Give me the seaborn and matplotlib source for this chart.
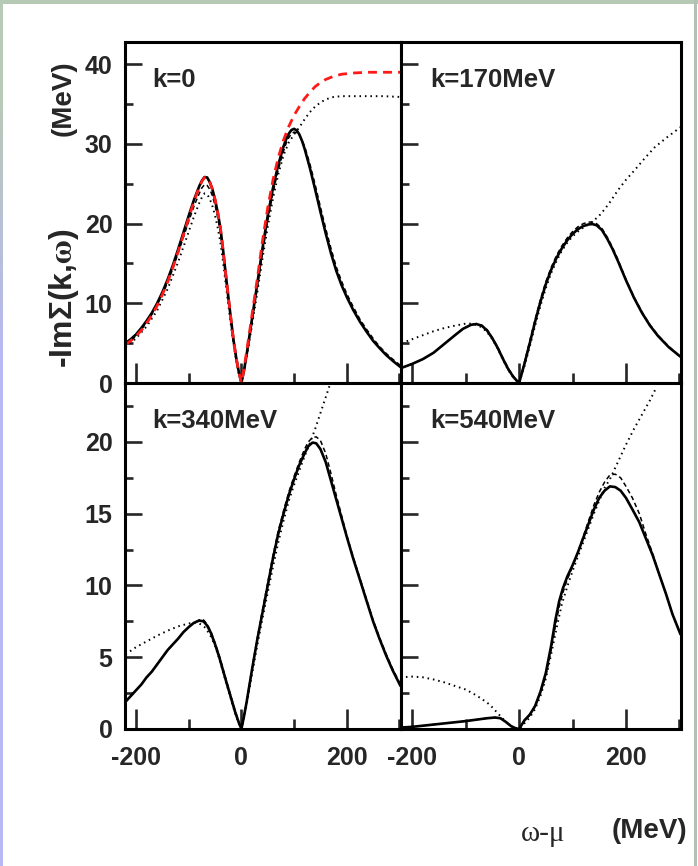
import numpy as np
import pandas as pd
import matplotlib
matplotlib.use("Agg")
import matplotlib.pyplot as plt
from matplotlib.ticker import MultipleLocator
import seaborn as sns

# ---------------- data (omega - mu in MeV, -Im Sigma in MeV) ----------------
# k = 0
k0_solid_x = [-220, -210, -200, -190, -180, -170, -160, -150, -140, -130, -120, -110, -100, -90, -80, -75, -70, -65,
              -60, -55, -50, -45, -40, -35, -30, -25, -20, -15, -10, -5, 0,
              5, 10, 15, 20, 30, 40, 50, 60, 70, 80, 85, 90, 95, 100, 105, 110, 115, 120, 130, 140, 150,
              160, 170, 180, 190, 200, 212, 225, 237, 250, 262, 275, 287, 302]
k0_solid_y = [5.0, 5.5, 6.1, 6.9, 7.8, 8.8, 10.0, 11.4, 13.0, 14.8, 16.8, 18.9, 21.0, 23.0, 24.7, 25.4, 25.85, 25.8,
              25.2, 24.3, 23.0, 21.4, 19.5, 16.8, 13.8, 10.9, 8.1, 5.4, 3.2, 1.4, 0.0,
              1.6, 3.6, 5.8, 8.0, 12.4, 16.9, 21.0, 24.5, 27.4, 29.7, 30.6, 31.3, 31.75, 31.9, 31.7, 31.2, 30.4, 29.4, 27.0, 24.3, 21.5,
              18.8, 16.3, 14.1, 12.3, 10.8, 9.2, 7.7, 6.5, 5.3, 4.4, 3.5, 2.8, 2.0]
k0_dash_x = k0_solid_x
k0_dash_y = [4.8, 5.3, 5.9, 6.7, 7.6, 8.6, 9.8, 11.1, 12.6, 14.4, 16.3, 18.3, 20.3, 22.2, 23.8, 24.5, 24.9, 24.8,
             24.3, 23.5, 22.3, 20.8, 19.0, 16.4, 13.5, 10.7, 7.9, 5.3, 3.1, 1.3, 0.0,
             1.5, 3.4, 5.5, 7.6, 11.9, 16.3, 20.4, 23.9, 26.8, 29.1, 30.1, 30.8, 31.3, 31.5, 31.4, 31.1, 30.5, 29.7, 27.5, 24.9, 22.1,
             19.4, 16.9, 14.6, 12.8, 11.2, 9.6, 8.0, 6.8, 5.6, 4.6, 3.7, 3.0, 2.2]
k0_dot_x = [-220, -200, -180, -160, -140, -120, -100, -90, -80, -75, -70, -65, -60, -55, -50, -45, -40, -35, -30,
            -25, -20, -15, -10, -5, 0,
            5, 10, 15, 20, 30, 40, 50, 60, 70, 80, 90, 100, 110, 120, 130, 140, 150, 160, 175, 190, 210, 240, 270, 302]
k0_dot_y = [4.5, 5.6, 7.1, 9.1, 11.8, 15.2, 19.0, 20.9, 22.6, 23.3, 23.8, 23.7, 23.1, 22.2, 21.0, 19.5, 17.7, 15.3, 12.6,
            9.9, 7.3, 4.9, 2.9, 1.2, 0.0,
            1.4, 3.2, 5.2, 7.2, 11.3, 15.6, 19.6, 23.2, 26.2, 28.6, 30.2, 31.2, 32.1, 33.1, 34.0, 34.7, 35.2, 35.6, 35.9, 36.0, 36.0, 36.0, 36.0, 35.9]
k0_red_x = [-220, -210, -200, -190, -180, -170, -160, -150, -140, -130, -120, -110, -100, -90, -80, -75, -70, -65,
            -60, -55, -50, -45, -40, -35, -30, -25, -20, -15, -10, -5, 0,
            5, 10, 15, 20, 30, 40, 50, 60, 70, 80, 90, 100, 110, 120, 130, 140, 150, 160, 175, 190, 210, 240, 270, 302]
k0_red_y = [4.8, 5.3, 5.9, 6.6, 7.5, 8.5, 9.7, 11.1, 12.7, 14.5, 16.5, 18.6, 20.7, 22.8, 24.6, 25.3, 25.8, 25.8,
            25.2, 24.3, 23.0, 21.4, 19.5, 16.8, 13.8, 10.9, 8.1, 5.4, 3.2, 1.4, 0.0,
            1.8, 4.0, 6.2, 8.5, 13.0, 17.8, 22.0, 25.5, 28.3, 30.5, 32.2, 33.6, 34.7, 35.7, 36.5, 37.2, 37.7, 38.1, 38.5, 38.75, 38.9, 39.0, 39.0, 39.0]

# k = 170 MeV
k170_solid_x = [-220, -200, -180, -160, -140, -120, -105, -90, -80, -70, -60, -50, -40, -30, -20, -10, 0,
                10, 20, 30, 40, 50, 60, 70, 80, 90, 100, 110, 120, 130, 137, 145, 155, 165, 175, 185,
                200, 215, 230, 245, 260, 280, 302]
k170_solid_y = [1.9, 2.4, 3.0, 3.8, 4.9, 6.0, 6.8, 7.3, 7.4, 7.2, 6.6, 5.6, 4.4, 3.0, 1.7, 0.7, 0.0,
                2.4, 5.0, 7.7, 10.2, 12.4, 14.2, 15.7, 16.9, 17.9, 18.7, 19.3, 19.7, 19.9, 19.95, 19.8, 19.2, 18.1, 16.8, 15.3,
                12.9, 10.7, 8.8, 7.2, 5.9, 4.5, 3.3]
k170_dash_x = k170_solid_x
k170_dash_y = [1.9, 2.4, 3.0, 3.8, 4.9, 6.0, 6.8, 7.3, 7.45, 7.25, 6.7, 5.7, 4.5, 3.1, 1.8, 0.8, 0.0,
               2.6, 5.3, 8.0, 10.5, 12.7, 14.5, 16.0, 17.2, 18.2, 19.0, 19.6, 20.0, 20.2, 20.2, 20.0, 19.4, 18.3, 17.0, 15.5,
               13.0, 10.8, 8.9, 7.3, 6.0, 4.6, 3.3]
k170_dot_x = [-220, -200, -180, -160, -140, -120, -100, -90, -80, -70, -60, -50, -40, -30, -20, -10, 0,
              10, 20, 30, 40, 50, 60, 70, 80, 90, 100, 110, 120, 130, 140, 150, 160, 170, 185, 200, 216, 235, 254, 278, 302]
k170_dot_y = [5.0, 5.5, 6.0, 6.5, 6.9, 7.2, 7.45, 7.45, 7.3, 7.0, 6.4, 5.5, 4.3, 2.9, 1.6, 0.6, 0.0,
              2.1, 4.6, 7.2, 9.7, 11.9, 13.8, 15.3, 16.6, 17.6, 18.4, 19.0, 19.5, 19.9, 20.4, 21.0, 21.8, 22.7, 24.2, 25.5, 26.7, 28.2, 29.6, 30.9, 32.1]

# k = 340 MeV
k340_solid_x = [-220, -210, -200, -190, -180, -170, -160, -150, -140, -130, -120, -110, -100, -90, -80, -72, -65,
                -58, -50, -42, -35, -28, -20, -12, -5, 0,
                5, 10, 20, 30, 40, 50, 60, 70, 80, 90, 100, 110, 120, 127, 135, 142, 150, 160, 170, 180, 190,
                200, 212, 225, 237, 250, 262, 275, 287, 302]
k340_solid_y = [1.9, 2.3, 2.7, 3.1, 3.6, 4.0, 4.5, 5.0, 5.5, 5.9, 6.3, 6.75, 7.1, 7.4, 7.55, 7.5, 7.2,
                6.7, 5.9, 5.0, 4.1, 3.2, 2.2, 1.2, 0.45, 0.0,
                0.9, 1.9, 4.1, 6.2, 8.1, 10.0, 11.9, 13.6, 15.0, 16.3, 17.4, 18.4, 19.2, 19.7, 19.95, 19.9, 19.5, 18.6, 17.3, 16.0, 14.7,
                13.4, 11.9, 10.4, 9.0, 7.5, 6.3, 5.1, 4.1, 3.0]
k340_dash_x = k340_solid_x
k340_dash_y = [1.9, 2.3, 2.7, 3.1, 3.6, 4.0, 4.5, 5.0, 5.5, 5.9, 6.3, 6.75, 7.1, 7.4, 7.6, 7.6, 7.3,
               6.8, 6.0, 5.1, 4.2, 3.3, 2.3, 1.3, 0.5, 0.0,
               0.9, 1.9, 4.2, 6.3, 8.3, 10.2, 12.1, 13.8, 15.2, 16.5, 17.6, 18.6, 19.5, 20.0, 20.3, 20.35, 20.1, 19.2, 17.8, 16.3, 14.9,
               13.5, 12.0, 10.5, 9.1, 7.6, 6.4, 5.2, 4.2, 3.1]
k340_dot_x = [-220, -200, -180, -160, -140, -120, -100, -90, -80, -70, -60, -50, -42, -35, -28, -20, -12, -5, 0,
              5, 10, 20, 30, 40, 50, 60, 70, 80, 90, 100, 110, 120, 130, 140, 150, 160, 170]
k340_dot_y = [5.2, 5.7, 6.1, 6.5, 6.85, 7.15, 7.35, 7.4, 7.35, 7.1, 6.6, 5.8, 4.9, 4.0, 3.1, 2.1, 1.1, 0.4, 0.0,
              0.8, 1.7, 3.8, 5.8, 7.7, 9.5, 11.3, 13.0, 14.5, 15.9, 17.0, 18.0, 19.0, 19.9, 20.9, 22.0, 23.1, 24.2]

# k = 540 MeV
k540_solid_x = [-222, -200, -175, -150, -125, -100, -80, -60, -45, -35, -25, -15, -5, 0,
                10, 20, 30, 40, 50, 60, 68, 75, 82, 90, 100, 110, 120, 130, 140, 150, 160, 170, 180, 190,
                200, 212, 225, 237, 250, 262, 275, 287, 302]
k540_solid_y = [0.1, 0.15, 0.25, 0.35, 0.45, 0.55, 0.65, 0.75, 0.8, 0.75, 0.5, 0.2, 0.02, 0.0,
                0.6, 1.0, 1.6, 2.6, 3.9, 5.8, 7.6, 8.9, 9.8, 10.6, 11.4, 12.3, 13.3, 14.3, 15.3, 16.1, 16.6, 16.9, 16.85, 16.6,
                16.1, 15.3, 14.4, 13.3, 12.1, 10.8, 9.4, 8.0, 6.6]
k540_dash_x = k540_solid_x
k540_dash_y = [0.1, 0.15, 0.25, 0.35, 0.45, 0.55, 0.65, 0.75, 0.8, 0.75, 0.5, 0.2, 0.02, 0.0,
               0.6, 1.0, 1.6, 2.5, 3.7, 5.5, 7.2, 8.5, 9.5, 10.4, 11.3, 12.3, 13.4, 14.5, 15.6, 16.5, 17.2, 17.7, 17.75, 17.5,
               16.9, 16.1, 15.0, 13.6, 12.2, 10.8, 9.4, 8.0, 6.6]
k540_dot_x = [-222, -200, -180, -160, -140, -120, -100, -85, -70, -55, -45, -35, -25, -15, 0,
              10, 20, 30, 40, 50, 60, 70, 80, 90, 100, 110, 120, 130, 140, 150, 160, 170, 185, 200, 215, 230, 245, 257]
k540_dot_y = [3.6, 3.65, 3.6, 3.45, 3.25, 3.0, 2.75, 2.45, 2.1, 1.7, 1.3, 0.9, 0.5, 0.2, 0.0,
              0.4, 0.8, 1.4, 2.3, 3.5, 5.2, 7.0, 8.7, 9.9, 11.0, 12.0, 13.0, 14.0, 15.0, 15.9, 16.8, 17.4, 18.6, 19.8, 20.9, 21.9, 22.9, 23.8]

panel_titles = ["k=0", "k=170MeV", "k=340MeV", "k=540MeV"]
x_ticklabels = ["-200", "0", "200"]

# ---------------- style ----------------
sns.set_theme(style="ticks")
plt.rcParams["font.family"] = ["Liberation Sans", "DejaVu Sans"]
plt.rcParams["font.weight"] = "bold"
plt.rcParams["mathtext.fontset"] = "stix"
plt.rcParams["mathtext.default"] = "rm"

W, H = 698, 866
fig = plt.figure(figsize=(W / 100, H / 100), dpi=100, facecolor="white")

# thin tinted border around the page
top_band = np.tile(np.array([0.71, 0.79, 0.71]), (4, W, 1))
fig.figimage(top_band, xo=0, yo=H - 4, origin="upper", zorder=0)
t = np.linspace(0, 1, H)[:, None]
green = np.array([0.72, 0.79, 0.72])
lav = np.array([0.72, 0.72, 0.96])
mix = np.clip((t - 0.12) / 0.3, 0, 1)
left_band = (green * (1 - mix) + lav * mix)[:, None, :] * np.ones((1, 3, 1))
fig.figimage(left_band, xo=0, yo=0, origin="upper", zorder=0)
right_band = np.tile(np.array([0.70, 0.76, 0.70]), (H, 3, 1))
fig.figimage(right_band, xo=W - 4, yo=0, origin="upper", zorder=0)

# panel geometry (pixels)
xl, xm, xr = 125, 401, 681
yt, ym, yb = 42, 383, 729


def box(x0, x1, y0, y1):
    return [x0 / W, 1 - y1 / H, (x1 - x0) / W, (y1 - y0) / H]


ax00 = fig.add_axes(box(xl, xm, yt, ym))
ax01 = fig.add_axes(box(xm, xr, yt, ym))
ax10 = fig.add_axes(box(xl, xm, ym, yb))
ax11 = fig.add_axes(box(xm, xr, ym, yb))
axes = [ax00, ax01, ax10, ax11]

solid_kw = dict(color="black", linewidth=1.9)
dash_kw = dict(color="black", linewidth=1.1, dashes=(3, 2))
dot_kw = dict(color="black", linewidth=1.4, dashes=(0.8, 2.0))
red_kw = dict(color="#ff1a1a", linewidth=2.0, dashes=(3.2, 2.2))

panels = [
    (ax00, [(k0_dot_x, k0_dot_y, dot_kw), (k0_dash_x, k0_dash_y, dash_kw),
            (k0_solid_x, k0_solid_y, solid_kw), (k0_red_x, k0_red_y, red_kw)]),
    (ax01, [(k170_dot_x, k170_dot_y, dot_kw), (k170_dash_x, k170_dash_y, dash_kw),
            (k170_solid_x, k170_solid_y, solid_kw)]),
    (ax10, [(k340_dot_x, k340_dot_y, dot_kw), (k340_dash_x, k340_dash_y, dash_kw),
            (k340_solid_x, k340_solid_y, solid_kw)]),
    (ax11, [(k540_dot_x, k540_dot_y, dot_kw), (k540_dash_x, k540_dash_y, dash_kw),
            (k540_solid_x, k540_solid_y, solid_kw)]),
]

for ax, curves in panels:
    for xs, ys, kw in curves:
        df = pd.DataFrame({"w": xs, "sigma": ys})
        kw = dict(kw)
        dashes = kw.pop("dashes", None)
        line_ax = sns.lineplot(data=df, x="w", y="sigma", ax=ax, sort=False, **kw)
        line = line_ax.lines[-1]
        line.set_solid_joinstyle("round")
        if dashes is not None:
            line.set_dashes(dashes)

tick_font = dict(fontsize=18, fontweight="bold", family="Liberation Sans")

for i, ax in enumerate(axes):
    ax.set_xlim(-221, 303)
    ax.set_xlabel("")
    ax.set_ylabel("")
    for s in ax.spines.values():
        s.set_linewidth(2.2)
        s.set_color("black")
        s.set_visible(True)
    ax.xaxis.set_major_locator(MultipleLocator(200))
    ax.xaxis.set_minor_locator(MultipleLocator(100))
    if i < 2:
        ax.set_ylim(0, 42.8)
        ax.yaxis.set_major_locator(MultipleLocator(10))
        ax.yaxis.set_minor_locator(MultipleLocator(5))
    else:
        ax.set_ylim(0, 24.1)
        ax.yaxis.set_major_locator(MultipleLocator(5))
        ax.yaxis.set_minor_locator(MultipleLocator(2.5))
    ax.tick_params(axis="x", which="major", direction="in", length=14.5, width=1.9,
                   top=False, bottom=True, pad=12)
    ax.tick_params(axis="x", which="minor", direction="in", length=7, width=1.9,
                   top=False, bottom=True)
    ax.tick_params(axis="y", which="major", direction="in", length=12, width=1.9,
                   left=True, right=False, pad=9)
    ax.tick_params(axis="y", which="minor", direction="in", length=6, width=1.9,
                   left=True, right=False)
    if i < 2:
        ax.tick_params(axis="x", labelbottom=False)
    else:
        ax.set_xticks([-200, 0, 200])
        ax.set_xticklabels(x_ticklabels, **tick_font)
    if i % 2 == 1:
        ax.tick_params(axis="y", labelleft=False)
    else:
        for lab in ax.get_yticklabels():
            lab.set_fontsize(18)
            lab.set_fontweight("bold")
    ax.text(0.10 if i % 2 == 0 else 0.104, 0.89, panel_titles[i], transform=ax.transAxes,
            ha="left", va="center", fontsize=18.5, fontweight="bold", family="Liberation Sans")

# axis titles
fig.text(64 / W, 1 - 298 / H, "-Im\u03a3(k,$\\omega$)", rotation=90, ha="center", va="center",
         fontsize=23, fontweight="bold", family="Liberation Sans")
fig.text(64 / W, 1 - 98 / H, "(MeV)", rotation=90, ha="center", va="center",
         fontsize=20, fontweight="bold", family="Liberation Sans")
fig.text(543 / W, 1 - 834 / H, "\u03c9-\u03bc", ha="center", va="center",
         fontsize=21, fontweight="normal", family="Liberation Serif")
fig.text(649 / W, 1 - 831 / H, "(MeV)", ha="center", va="center",
         fontsize=20, fontweight="bold", family="Liberation Sans")

fig.savefig("out.png", dpi=100, facecolor=fig.get_facecolor())
